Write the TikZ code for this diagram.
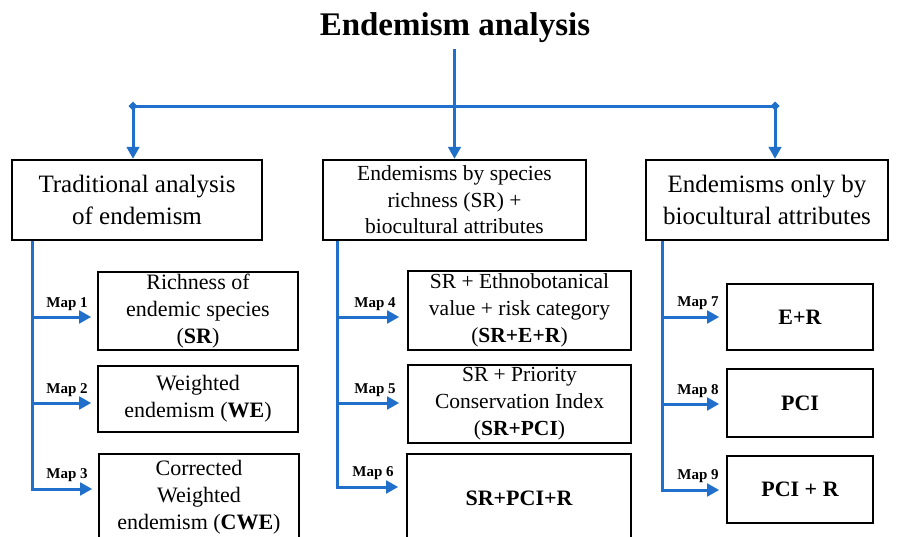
\documentclass[tikz,border=0pt]{standalone}
\usepackage{fontspec}
\setmainfont{Liberation Serif}
\usetikzlibrary{arrows.meta}
\definecolor{lineblue}{HTML}{1F6FCB}
\begin{document}
\begin{tikzpicture}[x=1pt,y=-1pt,
  conn/.style={draw=lineblue, line width=3pt},
  arr/.style={conn, -{Triangle[length=12pt,width=12.5pt]}},
  topbox/.style={draw, line width=2.4pt, inner sep=0pt, align=center, font=\fontsize{25}{32}\selectfont},
  midtop/.style={topbox, font=\fontsize{21.5}{26.5}\selectfont},
  subbox/.style={draw, line width=1.6pt, inner sep=0pt, align=center, font=\fontsize{22}{27}\selectfont},
  midsub/.style={subbox, font=\fontsize{21.5}{27}\selectfont},
  boldsub/.style={subbox, font=\bfseries\fontsize{22}{27}\selectfont},
  maplbl/.style={font=\bfseries\fontsize{15}{15}\selectfont, inner sep=0pt, anchor=base},
  dot/.style={fill=lineblue}]

\clip (0,0) rectangle (900,536);
\fill[white] (0,0) rectangle (900,536);

% title
\node[font=\bfseries\fontsize{33}{33}\selectfont, inner sep=0pt, anchor=base] (title) at (455,35) {Endemism analysis};

% top boxes
\node[topbox, minimum width=250pt, minimum height=80pt] (tb1) at (137,200) {Traditional analysis\\of endemism};
\node[midtop, minimum width=263pt, minimum height=80pt] (tb2) at (454.5,200) {Endemisms by species\\richness (SR) +\\biocultural attributes};
\node[topbox, minimum width=242pt, minimum height=80pt] (tb3) at (767,200) {Endemisms only by\\biocultural attributes};

% bar
\coordinate (lc) at (133,106);
\coordinate (rc) at (775,106);
\draw[conn] (lc) -- (rc);
\fill[dot] (lc) +(-4.5,0) -- +(0,-4.5) -- +(4.5,0) -- +(0,4.5) -- cycle;
\fill[dot] (rc) +(-4.5,0) -- +(0,-4.5) -- +(4.5,0) -- +(0,4.5) -- cycle;
\draw[arr] ([yshift=-7pt]title.south -| tb2.north) -- (tb2.north);
\draw[arr] (lc) -- (lc |- tb1.north);
\draw[arr] (rc) -- (rc |- tb3.north);

% sub boxes left
\node[subbox, minimum width=200pt, minimum height=78pt] (s1) at (198,311) {Richness of\\endemic species\\(\textbf{SR})};
\node[subbox, minimum width=200pt, minimum height=66pt] (s2) at (198,399) {Weighted\\endemism (\textbf{WE})};
\node[subbox, minimum width=200pt, minimum height=87pt] (s3) at (199,497.5) {Corrected\\Weighted\\endemism (\textbf{CWE})};

% sub boxes middle
\node[midsub, minimum width=223pt, minimum height=79pt] (s4) at (519.5,310.5) {SR + Ethnobotanical\\value + risk category\\(\textbf{SR+E+R})};
\node[midsub, minimum width=223pt, minimum height=78pt] (s5) at (519.5,404) {SR + Priority\\Conservation Index\\(\textbf{SR+PCI})};
\node[boldsub, minimum width=224pt, minimum height=88pt] (s6) at (519,498) {SR+PCI+R};

% sub boxes right
\node[boldsub, minimum width=146pt, minimum height=66pt] (s7) at (800,317) {E+R};
\node[boldsub, minimum width=146pt, minimum height=68pt] (s8) at (800,403) {PCI};
\node[boldsub, minimum width=146pt, minimum height=67pt] (s9) at (800,489.5) {PCI + R};

% left spine
\coordinate (l1) at (32,317);
\coordinate (l2) at (32,403);
\coordinate (l3) at (32,489);
\draw[arr, shorten >=6pt] (tb1.south -| l3) -- (l3) -- (l3 -| s3.west);
\draw[arr, shorten >=6pt] (l1) -- (l1 -| s1.west);
\draw[arr, shorten >=6pt] (l2) -- (l2 -| s2.west);
\node[maplbl] (m1) at (67,307) {Map 1};
\node[maplbl] (m2) at (67,393) {Map 2};
\node[maplbl] (m3) at (67,478) {Map 3};

% middle spine
\coordinate (c1) at (337,317);
\coordinate (c2) at (337,403);
\coordinate (c3) at (337,487);
\draw[arr, shorten >=8pt] (tb2.south -| c3) -- (c3) -- (c3 -| s6.west);
\draw[arr, shorten >=8pt] (c1) -- (c1 -| s4.west);
\draw[arr, shorten >=8pt] (c2) -- (c2 -| s5.west);
\node[maplbl] (m4) at (375,307) {Map 4};
\node[maplbl] (m5) at (375,393) {Map 5};
\node[maplbl] (m6) at (373,476) {Map 6};

% right spine
\coordinate (r1) at (662,317);
\coordinate (r2) at (662,404);
\coordinate (r3) at (662,490);
\draw[arr, shorten >=7pt] (tb3.south -| r3) -- (r3) -- (r3 -| s9.west);
\draw[arr, shorten >=7pt] (r1) -- (r1 -| s7.west);
\draw[arr, shorten >=7pt] (r2) -- (r2 -| s8.west);
\node[maplbl] (m7) at (698,306) {Map 7};
\node[maplbl] (m8) at (698,394) {Map 8};
\node[maplbl] (m9) at (698,479) {Map 9};
\end{tikzpicture}
\end{document}
